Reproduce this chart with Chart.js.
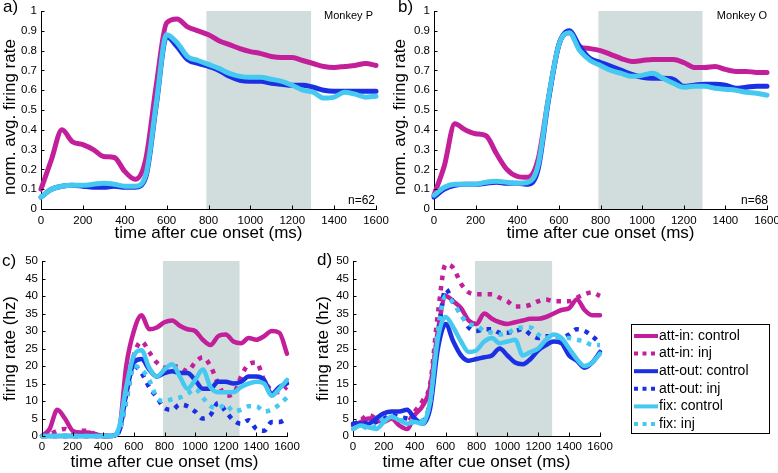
<!DOCTYPE html>
<html>
<head>
<meta charset="utf-8">
<script src="https://cdn.jsdelivr.net/npm/chart.js@4.4.1/dist/chart.umd.min.js"></script>
<style>
  body { margin: 0; background: #fff; width: 778px; height: 473px; overflow: hidden; position: relative; }
  canvas { position: absolute; }
</style>
</head>
<body>
<canvas id="pa" width="390" height="248" style="left:0;top:0"></canvas>
<canvas id="pb" width="388" height="248" style="left:390px;top:0"></canvas>
<canvas id="pc" width="305" height="228" style="left:0;top:245px"></canvas>
<canvas id="pd" width="488" height="228" style="left:290px;top:245px"></canvas>
<script>
const timeMs = [0, 50, 100, 150, 200, 250, 300, 350, 400, 450, 500, 550, 600, 650, 700, 750, 800,
  850, 900, 950, 1000, 1050, 1100, 1150, 1200, 1250, 1300, 1350, 1400, 1450, 1500, 1550, 1600];
const xTicks = [0, 200, 400, 600, 800, 1000, 1200, 1400, 1600];
const shadeMs = [790, 1290];
const seriesLabels = ["att-in: control", "att-in: inj", "att-out: control", "att-out: inj", "fix: control", "fix: inj"];

// a) Monkey P, normalized
const aAttIn = [0.10, 0.25, 0.40, 0.34, 0.325, 0.30, 0.265, 0.26, 0.19, 0.15,
  0.25, 0.62, 0.94, 0.96, 0.92, 0.90, 0.88, 0.85, 0.83, 0.81,
  0.795, 0.785, 0.77, 0.765, 0.765, 0.75, 0.735, 0.72, 0.715, 0.72,
  0.725, 0.735, 0.725];
const aAttOut = [0.06, 0.10, 0.115, 0.12, 0.115, 0.11, 0.11, 0.115, 0.11, 0.11,
  0.16, 0.52, 0.87, 0.82, 0.755, 0.735, 0.72, 0.70, 0.67, 0.65,
  0.645, 0.645, 0.635, 0.63, 0.625, 0.625, 0.615, 0.60, 0.595, 0.595,
  0.595, 0.595, 0.595];
const aFix = [0.06, 0.10, 0.115, 0.12, 0.12, 0.125, 0.13, 0.125, 0.115, 0.115,
  0.17, 0.53, 0.88, 0.84, 0.77, 0.75, 0.73, 0.71, 0.685, 0.67,
  0.665, 0.665, 0.655, 0.645, 0.625, 0.60, 0.59, 0.56, 0.565, 0.59,
  0.58, 0.565, 0.57];

// b) Monkey O, normalized
const bAttIn = [0.07, 0.22, 0.43, 0.40, 0.38, 0.37, 0.28, 0.20, 0.165, 0.16,
  0.25, 0.56, 0.83, 0.89, 0.82, 0.81, 0.80, 0.78, 0.76, 0.745,
  0.75, 0.755, 0.755, 0.755, 0.74, 0.715, 0.715, 0.72, 0.705, 0.695,
  0.695, 0.69, 0.69];
const bAttOut = [0.06, 0.10, 0.12, 0.125, 0.125, 0.13, 0.135, 0.13, 0.13, 0.125,
  0.20, 0.55, 0.83, 0.90, 0.82, 0.76, 0.74, 0.72, 0.70, 0.68,
  0.665, 0.66, 0.66, 0.655, 0.62, 0.625, 0.63, 0.63, 0.625, 0.61,
  0.615, 0.62, 0.62];
const bFix = [0.07, 0.11, 0.125, 0.125, 0.125, 0.135, 0.14, 0.135, 0.13, 0.135,
  0.22, 0.56, 0.83, 0.89, 0.80, 0.75, 0.725, 0.70, 0.685, 0.67,
  0.675, 0.685, 0.66, 0.635, 0.615, 0.62, 0.62, 0.61, 0.605, 0.60,
  0.59, 0.585, 0.575];

// c) example cell, firing rate (hz)
const cAttInCtrl = [0, 2, 7.5, 5, 1.5, 1, 1, 0.5, 0, 0,
  1, 20, 30, 34.5, 30.5, 31, 32.5, 33, 31.5, 30.5,
  30, 27.5, 26, 28.5, 29, 27, 26.5, 28, 27.5, 28.5,
  30, 29.5, 23.5];
const cAttInInj = [0, 0.5, 1.5, 2, 1, 1.5, 1.5, 0.5, 0, 0,
  1, 12, 23, 27, 24, 21, 19.5, 20, 19.5, 18.5,
  21, 22.5, 20, 15, 11.5, 12, 17, 20.5, 21, 16,
  13, 12.5, 14];
const cAttOutCtrl = [0, 0, 0, 0, 0, 0, 0, 0, 0, 0,
  1, 12, 21, 22, 19, 17, 18, 18.5, 18, 18,
  16, 13.5, 13.5, 15.5, 15.5, 15, 15.5, 17, 17, 16,
  12, 14, 15];
const cAttOutInj = [0, 0, 0, 0, 0, 0, 0, 0, 0, 0,
  1, 10, 20, 18, 14, 11, 8, 7.5, 9, 8.5,
  7, 5, 6, 9.5, 7, 4.5, 3.5, 4.5, 2, 1.5,
  4, 4, 5];
const cFixCtrl = [0, 0, 0, 0, 0, 0, 0, 0, 0, 0,
  2, 14, 23, 24.5, 19.5, 17, 19, 20.5, 17, 13.5,
  16, 19, 14, 12.5, 12.5, 12.5, 14, 15, 15.5, 15,
  11.5, 13.5, 16];
const cFixInj = [0, 0, 0, 0, 0, 0, 0, 0, 0, 0,
  1, 10, 20, 19, 16, 11, 10, 10.5, 11, 12,
  13.5, 11, 8.5, 8, 9, 7, 7.5, 8.5, 8.5, 7,
  7.5, 9, 11];

// d) example cell, firing rate (hz)
const dAttInCtrl = [3, 4, 5, 4.5, 4, 5, 3, 2, 6, 8.5,
  14, 30, 40, 38.5, 36.5, 33, 32, 35, 33.5, 32.5,
  32, 32.5, 33, 33.5, 33.5, 34, 35, 36, 36.5, 39,
  36, 34.5, 34.5];
const dAttInInj = [3, 4.5, 6, 5, 4, 5, 4.5, 4, 7, 10,
  15, 35, 49, 48, 43.5, 41, 40.5, 40.5, 40.5, 39.5,
  38.5, 37, 37, 37.5, 38.5, 39, 38.5, 38.5, 38.5, 39.5,
  40.5, 41, 40];
const dAttOutCtrl = [3.5, 3.5, 3.5, 5, 6.5, 7, 7, 7.5, 5, 3.5,
  8, 25, 32, 27, 23, 21.5, 22, 22.5, 23, 25,
  23, 21, 20.5, 22, 24.5, 26, 27, 26.5, 23, 21.5,
  19.5, 21, 24];
const dAttOutInj = [3.5, 4, 3.5, 4, 5, 6, 5.5, 5, 4.5, 4,
  10, 28, 42, 38, 35, 31, 30, 30.5, 30.5, 29.5,
  29.5, 30, 30.5, 29, 28, 28.5, 28.5, 28, 29, 30.5,
  30, 28.5, 26.5];
const dFixCtrl = [2, 3, 2.5, 2, 4, 5.5, 4.5, 3.5, 4, 3.5,
  10, 28, 34, 31, 27, 24, 24.5, 27, 28, 26.5,
  27, 27.5, 23, 24, 25, 27.5, 29, 28, 25, 22,
  20, 21, 23.5];
const dFixInj = [2, 3, 2, 3, 5, 5.5, 4.5, 4.5, 4, 4.5,
  10, 30, 40, 38, 34.5, 32, 31.5, 30, 29.5, 29,
  29.5, 30.5, 31, 31, 29, 28, 28.5, 28, 28, 27.5,
  27, 26, 26];

const MAGENTA = "#c41f9a";
const BLUE = "#1c30e3";
const CYAN = "#46c9f1";
const SHADE = "#d1dcdc";
const FONT = '"Liberation Sans", Arial, Helvetica, sans-serif';

Chart.defaults.color = "#000";
Chart.defaults.font.family = FONT;

const toPoints = (vals) => vals.map((v, i) => ({ x: timeMs[i], y: v }));

function line(label, vals, color, dotted, width, order) {
  return {
    label: label,
    data: toPoints(vals),
    borderColor: color,
    backgroundColor: color,
    borderWidth: width,
    borderDash: dotted ? [4.5, 6] : [],
    borderCapStyle: dotted ? "butt" : "round",
    borderJoinStyle: "round",
    cubicInterpolationMode: "monotone",
    pointRadius: 0,
    fill: false,
    clip: false,
    order: order
  };
}

// shading, inward ticks, free text, legend box
function panelPlugin(texts, legend) {
  return {
    id: "panel",
    beforeDraw(chart) {
      const { ctx, chartArea, scales } = chart;
      const x0 = scales.x.getPixelForValue(shadeMs[0]);
      const x1 = scales.x.getPixelForValue(shadeMs[1]);
      ctx.save();
      ctx.fillStyle = SHADE;
      ctx.fillRect(x0, chartArea.top, x1 - x0, chartArea.bottom - chartArea.top);
      ctx.restore();
    },
    afterDraw(chart) {
      const { ctx, chartArea, scales } = chart;
      ctx.save();
      ctx.strokeStyle = "#000";
      ctx.lineWidth = 1;
      ctx.beginPath();
      scales.x.ticks.forEach((t) => {
        const px = Math.round(scales.x.getPixelForValue(t.value)) + 0.5;
        ctx.moveTo(px, chartArea.bottom);
        ctx.lineTo(px, chartArea.bottom - 3.5);
      });
      scales.y.ticks.forEach((t) => {
        const py = Math.round(scales.y.getPixelForValue(t.value)) + 0.5;
        ctx.moveTo(chartArea.left, py);
        ctx.lineTo(chartArea.left + 3.5, py);
      });
      ctx.stroke();

      ctx.fillStyle = "#000";
      ctx.textBaseline = "alphabetic";
      texts.forEach((t) => {
        ctx.font = t.size + "px " + FONT;
        ctx.textAlign = t.align || "left";
        ctx.fillText(t.text, t.x, t.y);
      });
      if (legend) {
        ctx.strokeRect(legend.left + 0.5, legend.top + 0.5, legend.width, legend.height);
        chart.data.datasets.forEach((ds, i) => {
          const y = legend.top + 12 + i * 17.6;
          ctx.beginPath();
          ctx.strokeStyle = ds.borderColor;
          ctx.lineWidth = 4;
          ctx.lineCap = "butt";
          ctx.setLineDash(ds.borderDash.length ? [4, 4.5] : []);
          ctx.moveTo(legend.left + 3, y);
          ctx.lineTo(legend.left + 27, y);
          ctx.stroke();
          ctx.setLineDash([]);
          ctx.fillStyle = "#000";
          ctx.font = "14px " + FONT;
          ctx.textAlign = "left";
          ctx.textBaseline = "middle";
          ctx.fillText(ds.label, legend.left + 28, y);
        });
      }
      ctx.restore();
    }
  };
}

function makeChart(id, datasets, cfg) {
  return new Chart(document.getElementById(id), {
    type: "line",
    data: { datasets: datasets },
    options: {
      responsive: false,
      animation: false,
      events: [],
      layout: { padding: cfg.padding },
      plugins: { legend: { display: false }, tooltip: { enabled: false } },
      scales: {
        x: {
          type: "linear",
          min: 0,
          max: 1600,
          grid: { display: false, drawTicks: false },
          border: { display: true, color: "#000", width: 1 },
          afterBuildTicks: (s) => { s.ticks = xTicks.map((v) => ({ value: v })); },
          ticks: { autoSkip: false, maxRotation: 0, padding: cfg.xPad, font: { size: 11.5 }, color: "#000",
            callback: (v) => String(v) },
          title: { display: true, text: "time after cue onset (ms)", font: { size: 17 }, padding: { top: 0, bottom: cfg.xTitlePad } },
          afterFit: (s) => { s.height = cfg.xHeight; s.paddingLeft = 0; s.paddingRight = 0; }
        },
        y: {
          min: 0,
          max: cfg.yMax,
          grid: { display: false, drawTicks: false },
          border: { display: true, color: "#000", width: 1 },
          ticks: { stepSize: cfg.yStep, padding: 4, font: { size: 11.5 }, color: "#000",
            callback: (v) => String(+v.toFixed(2)) },
          title: { display: true, text: cfg.yTitle, font: { size: 17 }, padding: { top: 0, bottom: 0 } },
          afterFit: (s) => { s.width = cfg.yWidth; s.paddingTop = 0; s.paddingBottom = 0; }
        }
      }
    },
    plugins: [panelPlugin(cfg.texts, cfg.legend)]
  });
}

makeChart("pa", [
  line("att-in", aAttIn, MAGENTA, false, 5, 3),
  line("att-out", aAttOut, BLUE, false, 5, 2),
  line("fix", aFix, CYAN, false, 5, 1)
], {
  padding: { left: 0, top: 11, right: 14, bottom: 0 },
  yWidth: 41, xHeight: 39, xPad: 5, xTitlePad: 4,
  yMax: 1, yStep: 0.1, yTitle: "norm. avg. firing rate   ",
  texts: [
    { text: "a)", x: 3, y: 12, size: 17 },
    { text: "Monkey P", x: 373, y: 19, size: 11, align: "right" },
    { text: "n=62", x: 375, y: 204, size: 12, align: "right" }
  ]
});

makeChart("pb", [
  line("att-in", bAttIn, MAGENTA, false, 5, 3),
  line("att-out", bAttOut, BLUE, false, 5, 2),
  line("fix", bFix, CYAN, false, 5, 1)
], {
  padding: { left: 0, top: 11, right: 11, bottom: 0 },
  yWidth: 44, xHeight: 39, xPad: 5, xTitlePad: 4,
  yMax: 1, yStep: 0.1, yTitle: "norm. avg. firing rate   ",
  texts: [
    { text: "b)", x: 8, y: 12, size: 17 },
    { text: "Monkey O", x: 377, y: 19, size: 11, align: "right" },
    { text: "n=68", x: 378, y: 204, size: 12, align: "right" }
  ]
});

makeChart("pc", [
  line(seriesLabels[0], cAttInCtrl, MAGENTA, false, 4.5, 6),
  line(seriesLabels[1], cAttInInj, MAGENTA, true, 4.5, 5),
  line(seriesLabels[2], cAttOutCtrl, BLUE, false, 4.5, 4),
  line(seriesLabels[3], cAttOutInj, BLUE, true, 4.5, 3),
  line(seriesLabels[4], cFixCtrl, CYAN, false, 4.5, 1),
  line(seriesLabels[5], cFixInj, CYAN, true, 4.5, 2)
], {
  padding: { left: 0, top: 16, right: 18, bottom: 0 },
  yWidth: 42, xHeight: 37, xPad: 4, xTitlePad: 0,
  yMax: 50, yStep: 5, yTitle: "firing rate (hz)",
  texts: [{ text: "c)", x: 2, y: 21, size: 17 }]
});

makeChart("pd", [
  line(seriesLabels[0], dAttInCtrl, MAGENTA, false, 4.5, 6),
  line(seriesLabels[1], dAttInInj, MAGENTA, true, 4.5, 5),
  line(seriesLabels[2], dAttOutCtrl, BLUE, false, 4.5, 4),
  line(seriesLabels[3], dAttOutInj, BLUE, true, 4.5, 3),
  line(seriesLabels[4], dFixCtrl, CYAN, false, 4.5, 1),
  line(seriesLabels[5], dFixInj, CYAN, true, 4.5, 2)
], {
  padding: { left: 23, top: 16, right: 178, bottom: 0 },
  yWidth: 40, xHeight: 37, xPad: 4, xTitlePad: 0,
  yMax: 50, yStep: 5, yTitle: "firing rate (hz)",
  texts: [{ text: "d)", x: 27, y: 20, size: 17 }],
  legend: { left: 341, top: 79, width: 138, height: 109 }
});
</script>
</body>
</html>
